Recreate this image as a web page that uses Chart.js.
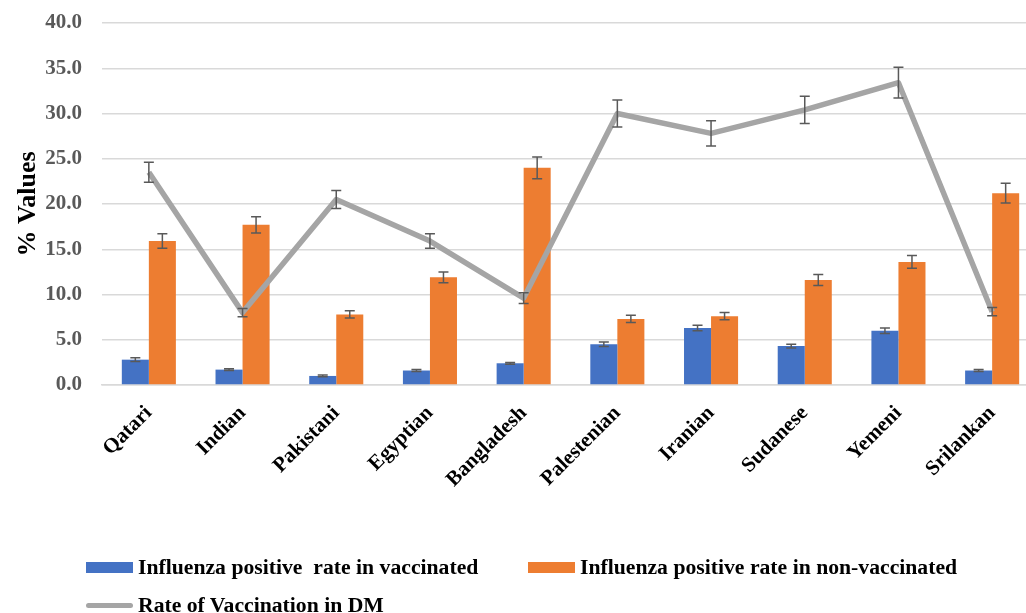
<!DOCTYPE html>
<html>
<head>
<meta charset="utf-8">
<title>Influenza positive rate and vaccination rate by nationality</title>
<script src="https://cdn.jsdelivr.net/npm/chart.js"></script>
<style>
    html, body { margin: 0; padding: 0; background: #fff; overflow: hidden; }
    #wrap { position: relative; width: 1026px; height: 613px; overflow: hidden; }
    #ratesChart { position: absolute; left: 0; top: 0; }
    #legend {
        position: absolute; left: 86px; top: 548px;
        display: grid; grid-template-columns: 442px auto; grid-auto-rows: 38px;
        font: bold 21.7px "Liberation Serif", "Times New Roman", serif; color: #000;
    }
    #legend .item { display: flex; align-items: center; white-space: pre; }
    #legend .swatch { width: 47px; height: 11px; margin-right: 5px; }
    #legend .swatch.line { height: 5px; border-radius: 3px; }
</style>
</head>
<body>
<div id="wrap">
    <canvas id="ratesChart" width="1040" height="613"></canvas>
    <div id="legend"></div>
</div>
<script>
// categories and series
const nationalities = ["Qatari", "Indian", "Pakistani", "Egyptian", "Bangladesh", "Palestenian", "Iranian", "Sudanese", "Yemeni", "Srilankan"];

const vaccinatedLabel = "Influenza positive  rate in vaccinated";
const vaccinated = [2.8, 1.7, 1.0, 1.6, 2.4, 4.5, 6.3, 4.3, 6.0, 1.6];
const vaccinatedErr = [0.2, 0.1, 0.1, 0.1, 0.1, 0.25, 0.3, 0.2, 0.3, 0.1];

const nonVaccinatedLabel = "Influenza positive rate in non-vaccinated";
const nonVaccinated = [15.9, 17.7, 7.8, 11.9, 24.0, 7.3, 7.6, 11.6, 13.6, 21.2];
const nonVaccinatedErr = [0.8, 0.9, 0.4, 0.6, 1.2, 0.4, 0.4, 0.6, 0.7, 1.1];

const dmLabel = "Rate of Vaccination in DM";
const dmRate = [23.5, 8.0, 20.5, 15.9, 9.6, 30.0, 27.8, 30.4, 33.4, 8.1];
const dmErr = [1.1, 0.45, 1.0, 0.8, 0.6, 1.5, 1.4, 1.5, 1.7, 0.45];

const yTicks = { min: 0, max: 40, step: 5 };

// draws +/- error bars for every dataset that has an `errors` array
const errorBarPlugin = {
    id: 'errorBars',
    afterDatasetsDraw(chart) {
        const { ctx, scales: { y } } = chart;
        ctx.save();
        ctx.strokeStyle = '#595959';
        ctx.lineWidth = 1.5;
        chart.data.datasets.forEach((ds, di) => {
            const meta = chart.getDatasetMeta(di);
            if (!ds.errors || meta.hidden) return;
            meta.data.forEach((el, i) => {
                const top = y.getPixelForValue(ds.data[i] + ds.errors[i]);
                const bottom = y.getPixelForValue(ds.data[i] - ds.errors[i]);
                ctx.beginPath();
                ctx.moveTo(el.x, top);
                ctx.lineTo(el.x, bottom);
                ctx.moveTo(el.x - 5, top);
                ctx.lineTo(el.x + 5, top);
                ctx.moveTo(el.x - 5, bottom);
                ctx.lineTo(el.x + 5, bottom);
                ctx.stroke();
            });
        });
        ctx.restore();
    }
};

document.addEventListener("DOMContentLoaded", () => {
    const serif = "'Liberation Serif', 'Times New Roman', serif";
    const ctx = document.getElementById("ratesChart").getContext("2d");
    const chart = new Chart(ctx, {
        type: 'bar',
        data: {
            labels: nationalities,
            datasets: [
                {
                    label: vaccinatedLabel,
                    data: vaccinated,
                    errors: vaccinatedErr,
                    backgroundColor: "#4472C4",
                    order: 1
                },
                {
                    label: nonVaccinatedLabel,
                    data: nonVaccinated,
                    errors: nonVaccinatedErr,
                    backgroundColor: "#ED7D31",
                    order: 1
                },
                {
                    type: 'line',
                    label: dmLabel,
                    data: dmRate,
                    errors: dmErr,
                    borderColor: "#A5A5A5",
                    backgroundColor: "#A5A5A5",
                    borderWidth: 5.5,
                    borderJoinStyle: 'round',
                    pointRadius: 0,
                    tension: 0,
                    order: 0
                }
            ]
        },
        options: {
            responsive: false,
            animation: false,
            categoryPercentage: 0.577,
            barPercentage: 1.0,
            layout: { padding: { top: 23, right: 1, bottom: 0, left: 0 } },
            plugins: {
                legend: { display: false },
                tooltip: { enabled: false }
            },
            scales: {
                x: {
                    grid: { display: false },
                    border: { color: '#D9D9D9', width: 1.5 },
                    ticks: {
                        autoSkip: false,
                        minRotation: 45,
                        maxRotation: 45,
                        padding: 8,
                        color: '#000',
                        font: { family: serif, size: 21, weight: 'bold' }
                    },
                    afterFit: (scale) => {
                        scale.height = 228;
                        scale.paddingLeft = 0;
                        scale.paddingRight = 0;
                    }
                },
                y: {
                    min: yTicks.min,
                    max: yTicks.max,
                    grid: { color: '#D9D9D9', lineWidth: 1.5, drawTicks: false },
                    border: { display: false },
                    ticks: {
                        stepSize: yTicks.step,
                        padding: 20,
                        color: '#595959',
                        font: { family: serif, size: 21, weight: 'bold' },
                        callback: (v) => v.toFixed(1)
                    },
                    title: {
                        display: true,
                        text: '% Values',
                        color: '#000',
                        padding: { top: 13, bottom: 0 },
                        font: { family: serif, size: 26, weight: 'bold' }
                    },
                    afterFit: (scale) => {
                        scale.width = 102;
                        scale.paddingTop = 0;
                        scale.paddingBottom = 0;
                    }
                }
            }
        },
        plugins: [errorBarPlugin]
    });

    // legend under the chart, built from the datasets
    const legend = document.getElementById("legend");
    chart.data.datasets.forEach((ds) => {
        const item = document.createElement("div");
        item.className = "item";
        const swatch = document.createElement("span");
        swatch.className = ds.type === 'line' ? "swatch line" : "swatch";
        swatch.style.background = ds.backgroundColor;
        item.appendChild(swatch);
        item.appendChild(document.createTextNode(ds.label));
        legend.appendChild(item);
    });
});
</script>
</body>
</html>
